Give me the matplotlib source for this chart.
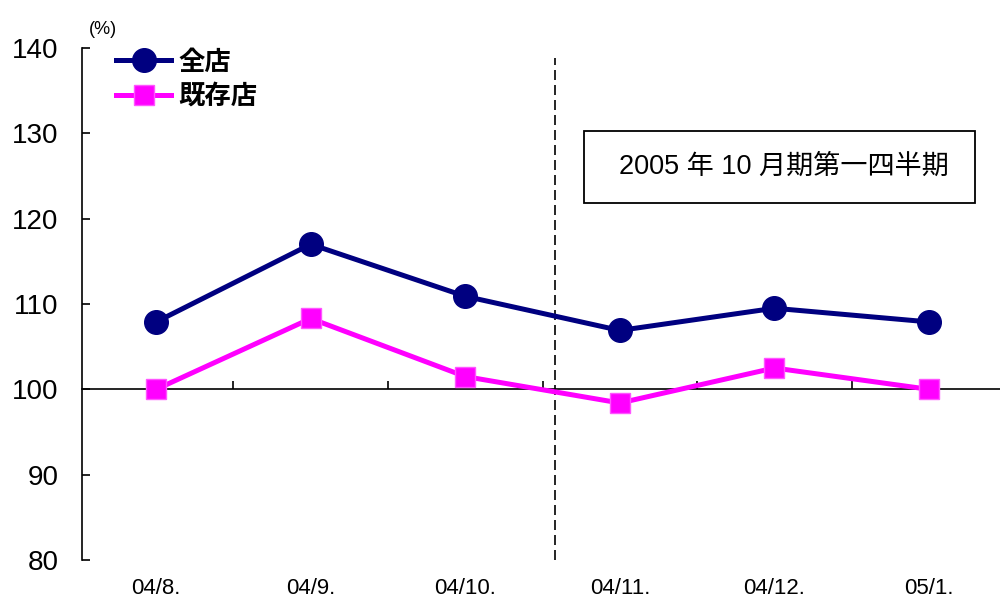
import matplotlib
matplotlib.use("Agg")
import matplotlib.pyplot as plt
from matplotlib.patches import Rectangle

# data
months = ["04/8.", "04/9.", "04/10.", "04/11.", "04/12.", "05/1."]
all_stores = [107.9, 117.0, 110.9, 106.9, 109.5, 107.9]
existing_stores = [100.0, 108.3, 101.5, 98.4, 102.5, 100.0]
series_names = ["全店", "既存店"]
period_label = "2005 年 10 月期第一四半期"
y_ticks = [80, 90, 100, 110, 120, 130, 140]
split_pos = 2.58

latin_cjk = ["Liberation Sans", "Noto Sans CJK JP", "DejaVu Sans"]
plt.rcParams["font.family"] = latin_cjk

fig = plt.figure(figsize=(10, 5.99), dpi=100)
ax = fig.add_axes([0.082, 0.0651, 0.918, 0.8548])

x = list(range(len(months)))
ax.plot(x, all_stores, color="#000080", lw=3.6, marker="o", markersize=17,
        label=series_names[0], zorder=4)
ax.plot(x, existing_stores, color="#ff00ff", lw=3.6, marker="s", markersize=14,
        markeredgecolor="#ff55ff", markeredgewidth=1, label=series_names[1], zorder=4)

ax.set_xlim(-0.48, 5.46)
ax.set_ylim(80, 140)

# spines
ax.spines["top"].set_visible(False)
ax.spines["right"].set_visible(False)
ax.spines["bottom"].set_position(("data", 100))
ax.spines["left"].set_linewidth(1.2)
ax.spines["bottom"].set_linewidth(1.2)

ax.set_yticks(y_ticks)
ax.tick_params(axis="y", direction="in", length=6, width=1.2, pad=17, labelsize=20)
ax.set_xticks([i + 0.5 for i in x[:-1]])
ax.set_xticklabels([])
ax.tick_params(axis="x", direction="in", length=6, width=1.2)

for i, m in enumerate(months):
    ax.text(i, 76.7, m, ha="center", va="center", fontsize=16, clip_on=False)

# dashed split line
ax.vlines(split_pos, 80, 138.8, colors="black", linestyles=(0, (6, 3)), lw=1.2)

# period box
ax.add_patch(Rectangle((0.547, 0.697), 0.426, 0.141, transform=ax.transAxes,
                       fill=False, edgecolor="black", lw=1.3, zorder=5))
ax.text(0.7642, 0.7676, period_label, transform=ax.transAxes, ha="center",
        va="center", fontsize=19.5, zorder=6)

fig.text(0.089, 1 - 30 / 599, "(%)", fontsize=13, va="center")

leg = ax.legend(loc="upper left", bbox_to_anchor=(0.017, 1.035), frameon=False,
                prop={"family": ["Noto Sans CJK JP"], "weight": "bold", "size": 19},
                handlelength=2.1, handletextpad=0.25, labelspacing=0.28, borderpad=0.2)

fig.savefig("out.png", dpi=100)
